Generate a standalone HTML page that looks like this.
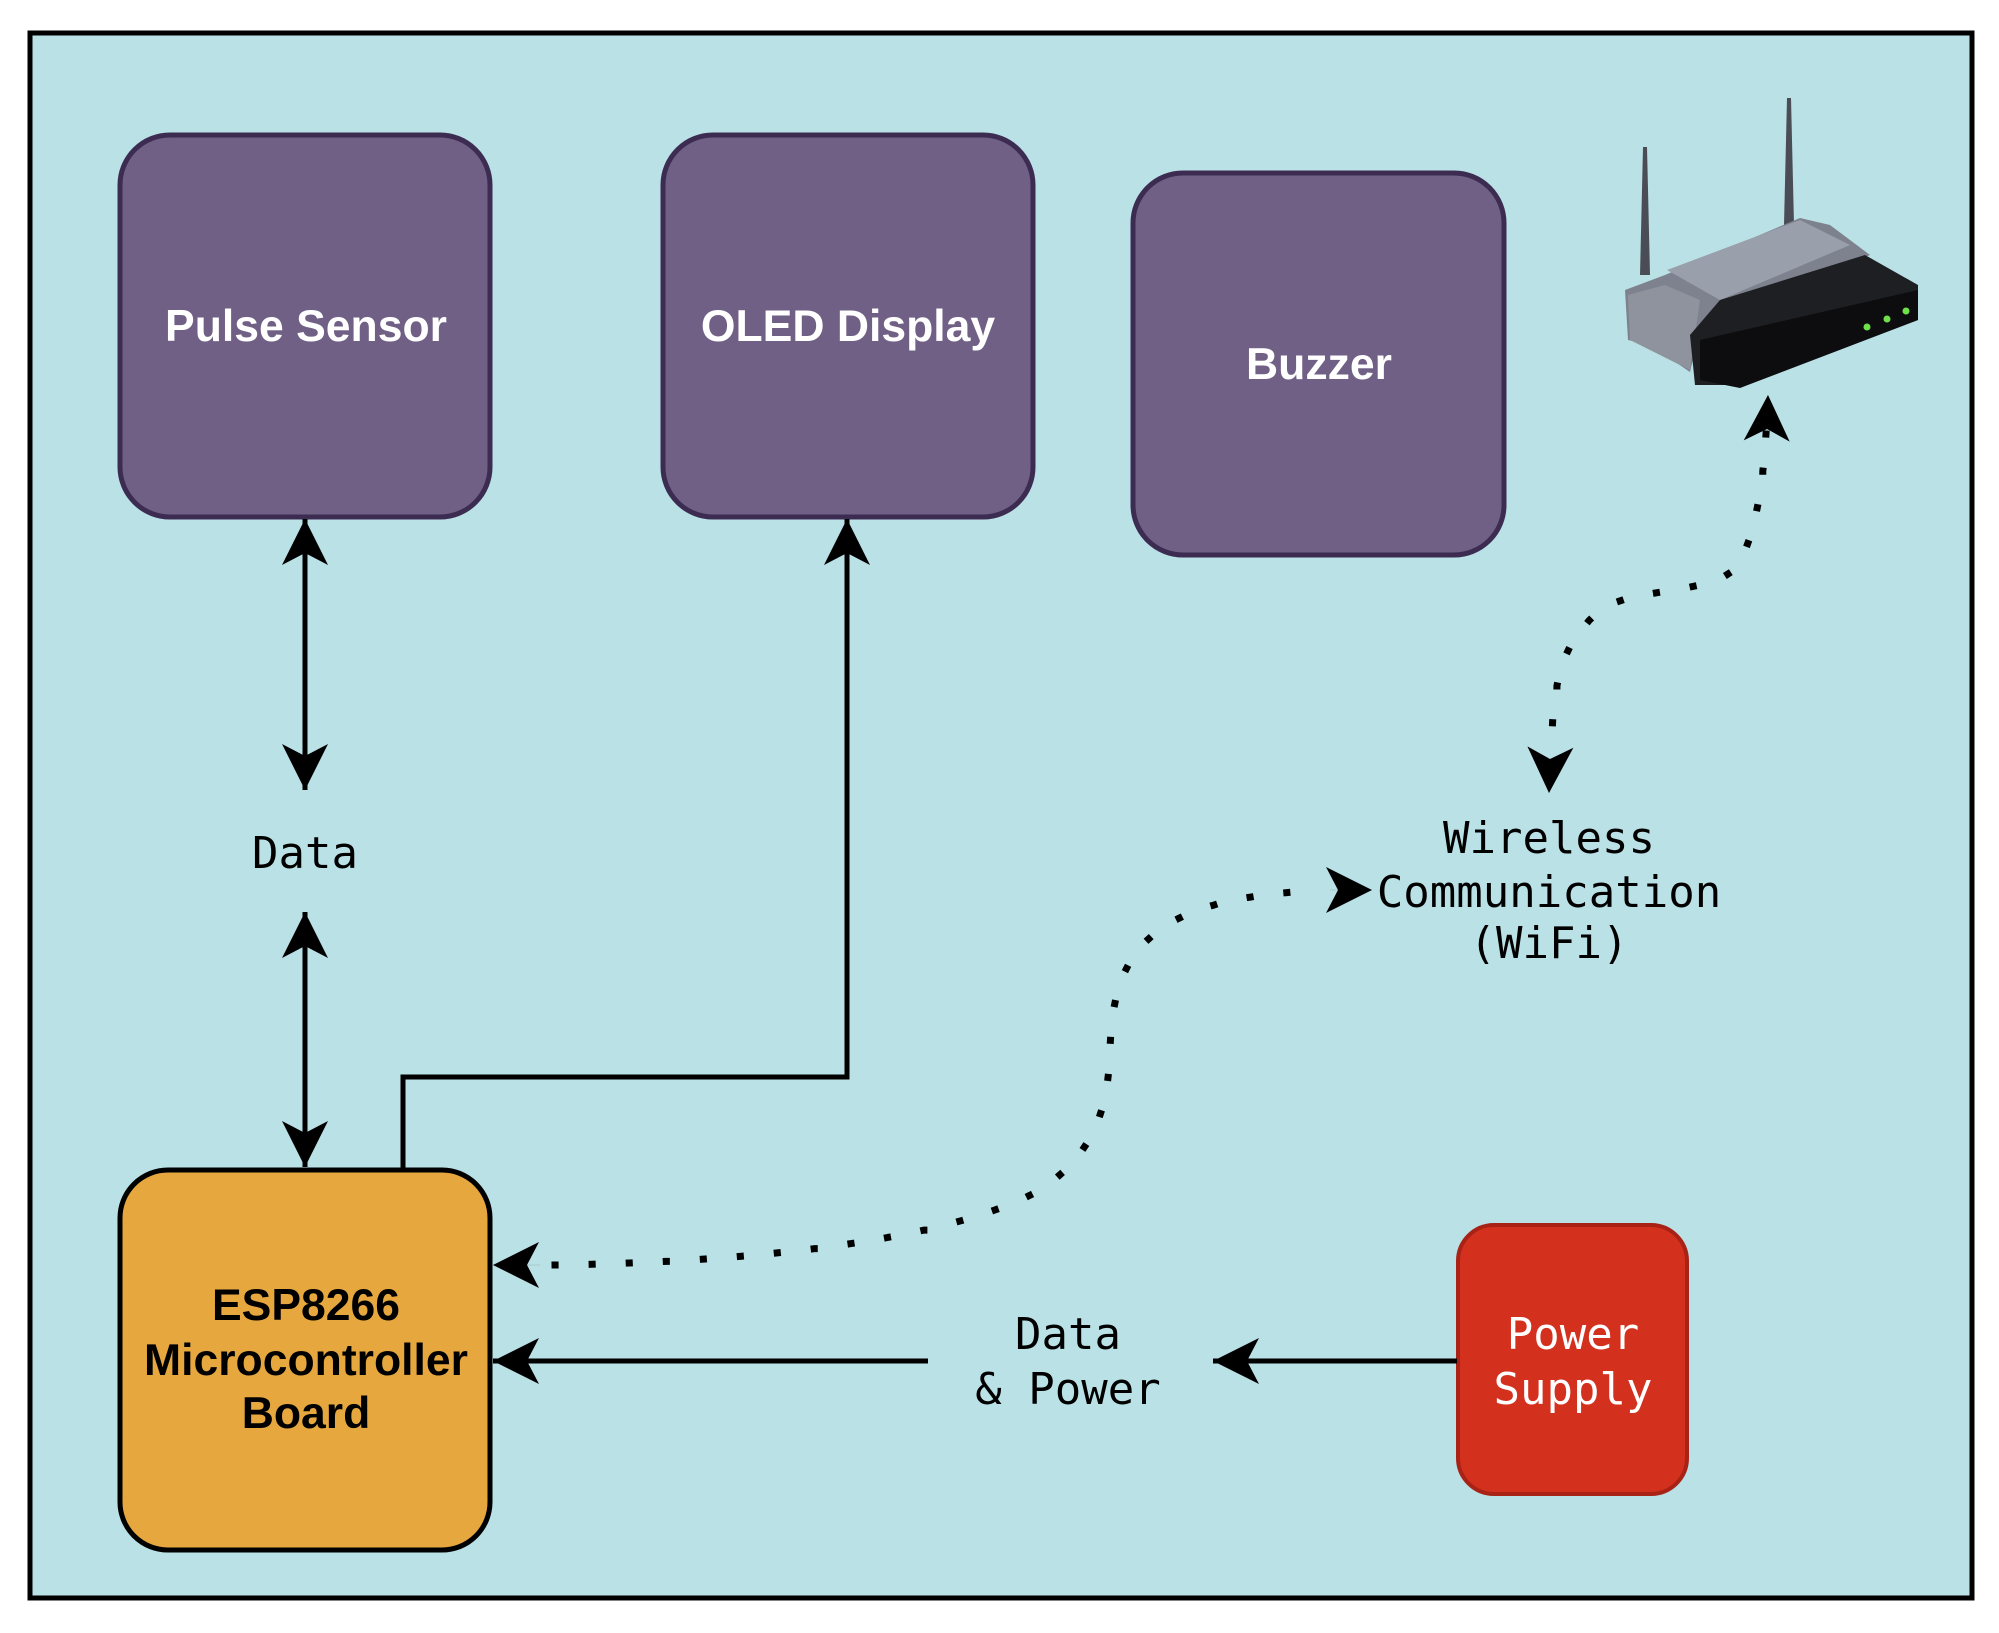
<!DOCTYPE html>
<html><head><meta charset="utf-8"><style>
html,body{margin:0;padding:0;background:#fff;}
svg{display:block;}
.b{font-family:"Liberation Sans",Arial,sans-serif;font-weight:bold;font-size:44.5px;text-anchor:middle;}
.m{font-family:"DejaVu Sans Mono","Liberation Mono",monospace;font-size:44px;text-anchor:middle;}
</style></head><body>
<svg width="1999" height="1633" viewBox="0 0 1999 1633" xmlns="http://www.w3.org/2000/svg">
<defs>
<marker id="ah" markerUnits="userSpaceOnUse" markerWidth="60" markerHeight="60" viewBox="-55 -30 60 60" refX="0" refY="0" orient="auto">
<path d="M0,0 L-46,-23 L-34,0 L-46,23 Z" fill="#000"/>
</marker>
</defs>
<rect x="30" y="33" width="1942" height="1565" fill="#bae1e6" stroke="#000" stroke-width="5"/>
<rect x="120" y="135" width="370" height="382" rx="50" fill="#716086" stroke="#3d2c52" stroke-width="5"/>
<rect x="663" y="135" width="370" height="382" rx="50" fill="#716086" stroke="#3d2c52" stroke-width="5"/>
<rect x="1133" y="173" width="371" height="382" rx="50" fill="#716086" stroke="#3d2c52" stroke-width="5"/>
<text class="b" x="306" y="341" fill="#fff">Pulse Sensor</text>
<text class="b" x="848" y="341" fill="#fff">OLED Display</text>
<text class="b" x="1319" y="379" fill="#fff">Buzzer</text>
<rect x="120" y="1170" width="370" height="380" rx="48" fill="#e6a73e" stroke="#000" stroke-width="5"/>
<text class="b" x="306" y="1320" fill="#000">ESP8266</text>
<text class="b" x="306" y="1375" fill="#000">Microcontroller</text>
<text class="b" x="306" y="1428" fill="#000">Board</text>
<rect x="1458" y="1225" width="229" height="269" rx="36" fill="#d4301e" stroke="#a82216" stroke-width="4"/>
<text class="m" x="1573" y="1349" fill="#fff">Power</text>
<text class="m" x="1573" y="1404" fill="#fff">Supply</text>
<text class="m" x="305" y="868" fill="#000">Data</text>
<text class="m" x="1549" y="853" fill="#000">Wireless</text>
<text class="m" x="1549" y="907" fill="#000">Communication</text>
<text class="m" x="1549" y="958" fill="#000">(WiFi)</text>
<text class="m" x="1068" y="1349" fill="#000">Data</text>
<text class="m" x="1068" y="1404" fill="#000">&amp; Power</text>
<g stroke="#000" stroke-width="5" fill="none">
<path d="M305 570 L305 790" marker-end="url(#ah)"/>
<path d="M305 740 L305 519" marker-end="url(#ah)"/>
<path d="M305 960 L305 1167" marker-end="url(#ah)"/>
<path d="M305 1100 L305 912" marker-end="url(#ah)"/>
<path d="M403 1168 L403 1077 L847 1077 L847 519" marker-end="url(#ah)"/>
<path d="M928 1361 L493 1361" marker-end="url(#ah)"/>
<path d="M1457 1361 L1213 1361" marker-end="url(#ah)"/>
</g>
<g stroke="#000" stroke-width="7" fill="none" stroke-dasharray="0.1 37" stroke-linecap="square">
<path d="M555 1265 C760 1262 950 1240 1040 1190 C1100 1150 1108 1100 1110 1050 C1113 960 1140 900 1310 891"/>
<path d="M1766 434 C1762 500 1750 560 1728 574 C1700 592 1640 590 1610 605 C1565 630 1552 680 1552 745"/>
</g>
<g stroke="none" fill="none">
<path d="M540 1265 L493 1265" stroke="#000" stroke-width="0.1" marker-end="url(#ah)"/>
<path d="M1330 890 L1372 890" stroke="#000" stroke-width="0.1" marker-end="url(#ah)"/>
<path d="M1767 430 L1768 395" stroke="#000" stroke-width="0.1" marker-end="url(#ah)"/>
<path d="M1550 760 L1549 793" stroke="#000" stroke-width="0.1" marker-end="url(#ah)"/>
</g>
<g>
<path d="M1643 147 L1647 147 L1650 275 L1640 275 Z" fill="#4a4d55"/>
<path d="M1787 98 L1791 98 L1794 225 L1784 225 Z" fill="#4a4d55"/>
<path d="M1625 290 L1665 275 L1800 218 L1830 225 L1870 255 L1760 300 L1700 330 L1690 372 L1650 345 L1628 340 Z" fill="#7d828e"/>
<path d="M1667 270 L1800 220 L1850 245 L1720 300 Z" fill="#9aa0ab"/>
<path d="M1628 295 L1665 285 L1700 300 L1690 370 L1650 350 L1630 340 Z" fill="#8e939d"/>
<path d="M1720 300 L1865 255 L1918 285 L1918 320 L1740 385 L1695 385 L1690 335 Z" fill="#1e1f22"/>
<path d="M1700 340 L1918 290 L1918 320 L1740 388 L1700 380 Z" fill="#0d0d0f"/>
<circle cx="1867" cy="327" r="3.5" fill="#6fe04a"/>
<circle cx="1887" cy="319" r="3.5" fill="#6fe04a"/>
<circle cx="1906" cy="311" r="3.5" fill="#6fe04a"/>
</g>
</svg>
</body></html>
